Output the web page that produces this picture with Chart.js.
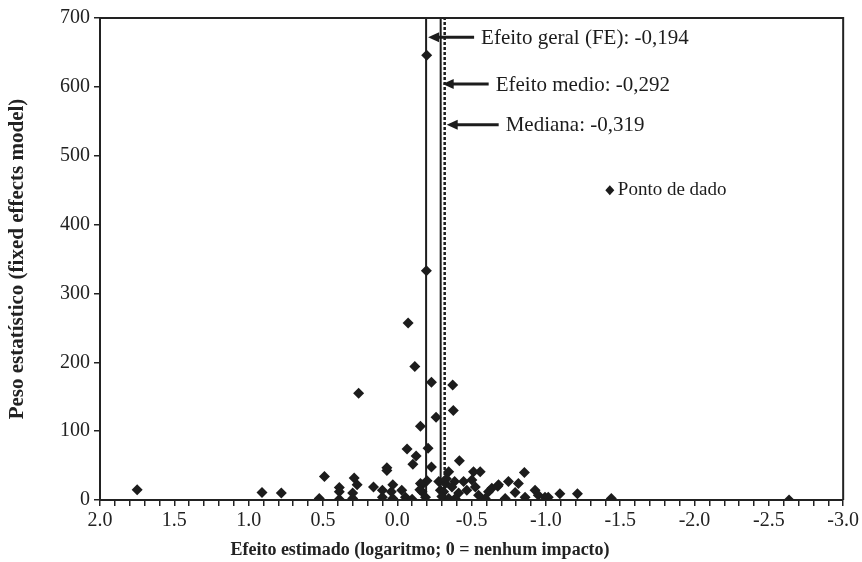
<!DOCTYPE html>
<html>
<head>
<meta charset="utf-8">
<script src="https://cdn.jsdelivr.net/npm/chart.js@4/dist/chart.umd.min.js"></script>
<style>
  html, body { margin: 0; padding: 0; background: #fff; }
  #wrap { width: 862px; height: 562px; }
</style>
</head>
<body>
<div id="wrap"><canvas id="funnelChart" width="862" height="562"></canvas></div>
<script>
// efeito estimado (x) e peso (y) de cada estudo
const efeitos = [
    1.75, 0.91, 0.78, 0.525, 0.49, 0.39, 0.39, 0.39, 0.29, 0.30,
    0.30, 0.27, 0.26, 0.16, 0.07, 0.07, 0.10, 0.10, 0.03, 0.04,
    0.03, -0.03, -0.055, -0.10, -0.066, -0.127, -0.105, -0.156, -0.073, -0.118,
    -0.196, -0.198, -0.207, -0.23, -0.20, -0.167, -0.167, -0.19, -0.23, -0.261,
    -0.373, -0.377, -0.279, -0.29, -0.324, -0.418, -0.346, -0.513, -0.558, -0.502,
    -0.446, -0.386, -0.312, -0.368, -0.413, -0.468, -0.525, -0.547, -0.614, -0.636,
    -0.681, -0.748, -0.815, -0.855, -0.793, -0.726, -0.86, -0.927, -0.949, -0.994,
    -0.592, -0.346, -0.39, -0.30, -0.676, -1.016, -1.094, -1.212, -1.44, -2.636,
    -0.156, -0.152, -0.33
];
const pesos = [
    15, 11, 10, 2, 34, 18, 12, 1, 32, 10,
    2, 22, 155, 19, 47, 43, 14, 4, 22, 12,
    2, 14, 4, 1, 74, 64, 52, 107, 257, 194,
    333, 646, 75, 48, 28, 22, 12, 4, 171, 120,
    167, 130, 27, 14, 24, 57, 41, 41, 41, 29,
    27, 27, 12, 19, 10, 14, 19, 7, 12, 17,
    22, 27, 24, 40, 11, 2, 4, 14, 7, 4,
    2, 2, 2, 5, 20, 4, 9, 9, 2, 0,
    24, 15, 31
];

// linhas de referência
const refNomes = ['Efeito geral (FE): -0,194', 'Efeito medio: -0,292', 'Mediana: -0,319'];
const refValores = [-0.194, -0.292, -0.319];
const refTracejado = [false, false, true];

const legendaPontos = 'Ponto de dado';
const tituloX = 'Efeito estimado (logaritmo; 0 = nenhum impacto)';
const tituloY = 'Peso estatístico (fixed effects model)';

const pontos = efeitos.map((x, i) => ({ x: x, y: pesos[i] }));

const datasets = [{
    label: legendaPontos,
    data: pontos,
    pointStyle: 'rectRot',
    pointRadius: 5.5,
    pointHoverRadius: 5.5,
    backgroundColor: '#1c1c1c',
    borderColor: '#1c1c1c',
    borderWidth: 0,
    showLine: false
}];

refValores.forEach((v, i) => {
    datasets.push({
        label: refNomes[i],
        data: [{ x: v, y: 0 }, { x: v, y: 700 }],
        showLine: true,
        pointRadius: 0,
        borderColor: '#1c1c1c',
        borderWidth: refTracejado[i] ? 2.5 : 2,
        borderDash: refTracejado[i] ? [3, 2] : []
    });
});

// posição das setas (em unidades do eixo y) e comprimento
const setaY = [672, 604, 545];
const setaLen = [46, 46, 52];

const serif = '"Liberation Serif", "DejaVu Serif", serif';

const extrasPlugin = {
    id: 'extras',
    afterDraw(chart) {
        const ctx = chart.ctx;
        const area = chart.chartArea;
        const xs = chart.scales.x;
        const ys = chart.scales.y;

        ctx.save();
        // moldura superior e direita
        ctx.strokeStyle = '#222';
        ctx.lineWidth = 2;
        ctx.beginPath();
        ctx.moveTo(area.left, area.top);
        ctx.lineTo(area.right, area.top);
        ctx.lineTo(area.right, area.bottom);
        ctx.stroke();

        // setas e rótulos
        ctx.fillStyle = '#1c1c1c';
        ctx.strokeStyle = '#1c1c1c';
        ctx.font = '21px ' + serif;
        ctx.textBaseline = 'middle';
        refValores.forEach((v, i) => {
            const tip = xs.getPixelForValue(v) + 2;
            const y = ys.getPixelForValue(setaY[i]);
            const tail = tip + setaLen[i];
            ctx.lineWidth = 3;
            ctx.beginPath();
            ctx.moveTo(tip + 8, y);
            ctx.lineTo(tail, y);
            ctx.stroke();
            ctx.beginPath();
            ctx.moveTo(tip, y);
            ctx.lineTo(tip + 11, y - 5);
            ctx.lineTo(tip + 11, y + 5);
            ctx.closePath();
            ctx.fill();
            ctx.fillText(refNomes[i], tail + 7, y + 1);
        });

        // legenda
        ctx.font = '19px ' + serif;
        const lx = xs.getPixelForValue(-1.43);
        const ly = ys.getPixelForValue(450);
        ctx.beginPath();
        ctx.moveTo(lx, ly - 5);
        ctx.lineTo(lx + 4.5, ly);
        ctx.lineTo(lx, ly + 5);
        ctx.lineTo(lx - 4.5, ly);
        ctx.closePath();
        ctx.fill();
        ctx.fillText(legendaPontos, lx + 8, ly);

        // títulos dos eixos
        ctx.fillStyle = '#222';
        ctx.textAlign = 'center';
        ctx.font = 'bold 18px ' + serif;
        ctx.fillText(tituloX, 420, 550);
        ctx.translate(18, 259);
        ctx.rotate(-Math.PI / 2);
        ctx.font = 'bold 21px ' + serif;
        ctx.fillText(tituloY, 0, 0);
        ctx.restore();
    }
};

document.addEventListener("DOMContentLoaded", function () {
    const ctx = document.getElementById('funnelChart');

    new Chart(ctx, {
        type: 'scatter',
        data: { datasets: datasets },
        plugins: [extrasPlugin],
        options: {
            responsive: false,
            animation: false,
            events: [],
            layout: { padding: { top: 18, right: 16, left: 0, bottom: 0 } },
            plugins: {
                legend: { display: false },
                tooltip: { enabled: false }
            },
            scales: {
                x: {
                    type: 'linear',
                    min: -3,
                    max: 2,
                    reverse: true,
                    afterFit: function (scale) { scale.height = 62; },
                    border: { display: true, color: '#222', width: 2 },
                    grid: { drawOnChartArea: false, drawTicks: true, tickLength: 6, color: '#222', lineWidth: 1.5 },
                    ticks: {
                        stepSize: 0.1,
                        autoSkip: false,
                        maxRotation: 0,
                        padding: 3,
                        color: '#222',
                        font: { family: serif, size: 20 },
                        callback: function (v) {
                            const r = Math.round(v * 10) / 10;
                            if (Math.abs(r * 2 - Math.round(r * 2)) < 1e-6) {
                                return (r === 0 ? 0 : r).toFixed(1);
                            }
                            return '';
                        }
                    }
                },
                y: {
                    min: 0,
                    max: 700,
                    afterFit: function (scale) { scale.width = 100; },
                    border: { display: true, color: '#222', width: 2 },
                    grid: { drawOnChartArea: false, drawTicks: true, tickLength: 6, color: '#222', lineWidth: 1.5 },
                    ticks: {
                        stepSize: 100,
                        padding: 4,
                        color: '#222',
                        font: { family: serif, size: 20 }
                    }
                }
            }
        }
    });
});
</script>
</body>
</html>
